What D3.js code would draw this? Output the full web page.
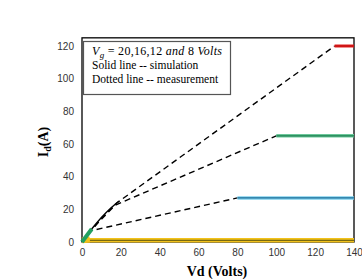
<!DOCTYPE html>
<html>
<head>
<meta charset="utf-8">
<script src="https://cdn.jsdelivr.net/npm/d3@7"></script>
<style>
  body { margin: 0; background: #fff; }
  .tick text { font-family: "Liberation Sans", Arial, sans-serif; font-size: 10px; fill: #333; }
</style>
</head>
<body>
<div id="chart"></div>
<script>
// tick values
var xTicks = [0, 20, 40, 60, 80, 100, 120, 140];
var yTicks = [0, 20, 40, 60, 80, 100, 120];

// measurement (dashed) curves, [Vd, Id]
var meas20 = [[0, 0], [5, 7.5], [10, 14.5], [15, 20.5], [18, 24], [130, 120]];
var meas16 = [[0, 0], [5, 7.5], [10, 14], [15, 20], [17, 22.5], [100, 65]];
var meas12 = [[0, 0], [5, 7], [80, 27]];

// simulation (solid) curves
var sim20 = [[130, 120], [140, 120]];
var sim16 = [[100, 65], [140, 65]];
var sim12 = [[80, 27], [140, 27]];
var sim8 = [[0, 1], [140, 1]];
var simKnee = [[5, 8], [10, 15], [15, 21], [19, 25]];
var simStart = [[0, 0], [5, 8]];
var simStart8 = [[0, 1], [4, 1.5]];

var legendLines = ["Solid line -- simulation", "Dotted line -- measurement"];

var width = 362, height = 279;
var serif = "'Liberation Serif', 'Times New Roman', serif";

var svg = d3.select("#chart")
    .append("svg")
    .attr("width", width)
    .attr("height", height);

// scales
var x = d3.scaleLinear().domain([0, 140]).range([82, 354]);
var y = d3.scaleLinear().domain([0, 120]).range([242, 46]);

var line = d3.line()
    .x(function(d) { return x(d[0]); })
    .y(function(d) { return y(d[1]); });

// axes, labels only
svg.append("g")
    .attr("transform", "translate(0," + y(0) + ")")
    .call(d3.axisBottom(x).tickValues(xTicks).tickSize(0).tickPadding(7))
    .call(function(g) { g.select(".domain").remove(); });

svg.append("g")
    .attr("transform", "translate(" + x(0) + ",0)")
    .call(d3.axisLeft(y).tickValues(yTicks).tickSize(0).tickPadding(8))
    .call(function(g) { g.select(".domain").remove(); });

// frame
svg.append("rect")
    .attr("x", x(0))
    .attr("y", y(125))
    .attr("width", x(140) - x(0))
    .attr("height", y(0) - y(125))
    .attr("fill", "none")
    .attr("stroke", "#000")
    .attr("stroke-width", 1.3);

// dashed measurement lines
[meas20, meas16, meas12].forEach(function(d) {
  svg.append("path")
      .datum(d)
      .attr("d", line)
      .attr("fill", "none")
      .attr("stroke", "#000")
      .attr("stroke-width", 1.4)
      .attr("stroke-dasharray", "6,4");
});

// simulation lines: thick colour with a thin darker core
var simSets = [
  {data: sim8, outer: "#f2c21b", inner: "#7a6a10", w: 4.5},
  {data: simStart8, outer: "#f2c21b", inner: "#f2c21b", w: 6},
  {data: sim12, outer: "#7fd0ec", inner: "#1f6f9a", w: 3.5},
  {data: sim16, outer: "#6cc79a", inner: "#1a7f4e", w: 3.5},
  {data: simStart, outer: "#22a060", inner: "#22a060", w: 4},
  {data: sim20, outer: "#e02020", inner: "#c41010", w: 3}
];

simSets.forEach(function(s) {
  svg.append("path")
      .datum(s.data)
      .attr("d", line)
      .attr("fill", "none")
      .attr("stroke", s.outer)
      .attr("stroke-width", s.w);
  svg.append("path")
      .datum(s.data)
      .attr("d", line)
      .attr("fill", "none")
      .attr("stroke", s.inner)
      .attr("stroke-width", 1.2);
});

svg.append("path")
    .datum(simKnee)
    .attr("d", line.curve(d3.curveMonotoneX))
    .attr("fill", "none")
    .attr("stroke", "#000")
    .attr("stroke-width", 1.4);

// legend box
svg.append("rect")
    .attr("x", 83.5)
    .attr("y", 41.5)
    .attr("width", 147)
    .attr("height", 53)
    .attr("fill", "#fff")
    .attr("stroke", "#555")
    .attr("stroke-width", 1.2);

var t0 = svg.append("text")
    .attr("x", 92)
    .attr("y", 55)
    .attr("textLength", 130)
    .attr("lengthAdjust", "spacing")
    .style("font-family", serif)
    .style("font-size", "12px");
t0.append("tspan").style("font-style", "italic").text("V");
t0.append("tspan").style("font-style", "italic").style("font-size", "9px").attr("dy", 2.5).text("g");
t0.append("tspan").attr("dy", -2.5).text(" = 20,16,12 ");
t0.append("tspan").style("font-style", "italic").text("and");
t0.append("tspan").text(" 8 ");
t0.append("tspan").style("font-style", "italic").text("Volts");

legendLines.forEach(function(s, i) {
  svg.append("text")
      .attr("x", 92)
      .attr("y", 69 + i * 14)
      .style("font-family", serif)
      .style("font-size", "11.5px")
      .text(s);
});

// axis titles
var yl = svg.append("text")
    .attr("transform", "translate(48,142) rotate(-90)")
    .attr("text-anchor", "middle")
    .style("font-family", serif)
    .style("font-weight", "bold")
    .style("font-size", "14px");
yl.append("tspan").text("I");
yl.append("tspan").style("font-size", "10px").attr("dy", 3).text("d");
yl.append("tspan").attr("dy", -3).text("(A)");

svg.append("text")
    .attr("x", 217)
    .attr("y", 276)
    .attr("text-anchor", "middle")
    .style("font-family", serif)
    .style("font-weight", "bold")
    .style("font-size", "14px")
    .text("Vd (Volts)");
</script>
</body>
</html>
